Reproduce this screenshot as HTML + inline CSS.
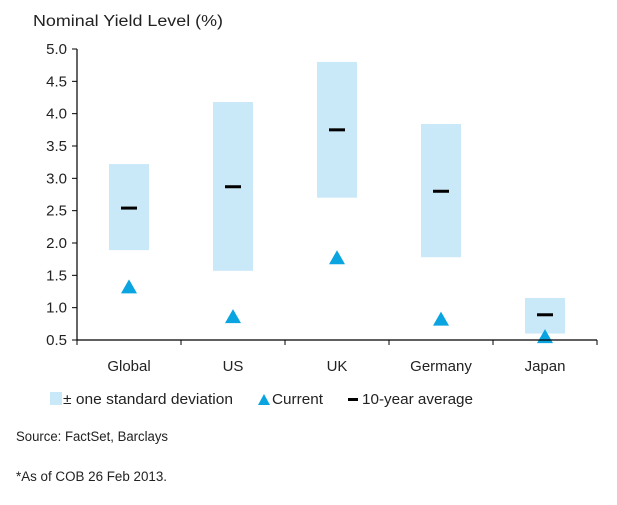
<!DOCTYPE html>
<html><head><meta charset="utf-8"><style>
body{margin:0;background:#fff;font-family:"Liberation Sans",sans-serif;}
svg text{font-family:"Liberation Sans",sans-serif;fill:#222;}
</style></head><body>
<svg width="617" height="500" id="c">
<text x="33" y="26" font-size="15.5" textLength="190" lengthAdjust="spacingAndGlyphs">Nominal Yield Level (%)</text>
<g id="plot"></g>
<g>
<rect x="50" y="392" width="12" height="13" fill="#c9e8f8"/>
<text x="63" y="404" font-size="15" textLength="170" lengthAdjust="spacingAndGlyphs">± one standard deviation</text>
<polygon points="258,405 264,394 270,405" fill="#0aa4e0"/>
<text x="272" y="404" font-size="15" textLength="51" lengthAdjust="spacingAndGlyphs">Current</text>
<rect x="348" y="398" width="10" height="3" fill="#000"/>
<text x="362" y="404" font-size="15" textLength="111" lengthAdjust="spacingAndGlyphs">10-year average</text>
</g>
<text x="16" y="441" font-size="13.5" textLength="152" lengthAdjust="spacingAndGlyphs">Source: FactSet, Barclays</text>
<text x="16" y="481" font-size="13.5" textLength="151" lengthAdjust="spacingAndGlyphs">*As of COB 26 Feb 2013.</text>
</svg>
<script>
const categories=["Global","US","UK","Germany","Japan"];
const stdHigh=[3.22,4.18,4.80,3.84,1.15];
const stdLow=[1.89,1.57,2.70,1.78,0.60];
const avg10=[2.54,2.87,3.75,2.80,0.89];
const current=[1.33,0.87,1.78,0.83,0.56];
const yTicks=["0.5","1.0","1.5","2.0","2.5","3.0","3.5","4.0","4.5","5.0"];
const NS="http://www.w3.org/2000/svg";
const g=document.getElementById('plot');
const x0=77,x1=597,yTop=49,yBot=340,vMin=0.5,vMax=5.0;
const y=v=>yBot-(v-vMin)/(vMax-vMin)*(yBot-yTop);
const bw=(x1-x0)/categories.length;
const xc=i=>x0+bw*(i+0.5);
function mk(t,a){const e=document.createElementNS(NS,t);for(const k in a)e.setAttribute(k,a[k]);g.appendChild(e);return e;}
categories.forEach((c,i)=>{
 let r=mk('rect',{x:xc(i)-20,y:y(stdHigh[i]),width:40,height:y(stdLow[i])-y(stdHigh[i]),fill:'#c9e8f8'});
 
 
});
categories.forEach((c,i)=>{
 let a=mk('rect',{x:xc(i)-8,y:y(avg10[i])-1.5,width:16,height:3,fill:'#000'});
 
 
 const cx=xc(i),cy=y(current[i]);
 let p=mk('polygon',{points:`${cx-8},${cy+7} ${cx},${cy-7} ${cx+8},${cy+7}`,fill:'#0aa4e0'});
 
 
 let t=mk('text',{x:cx,y:371,'font-size':15,'text-anchor':'middle'});
 t.textContent=c;
 
 
});
let ya=mk('line',{x1:x0,y1:yTop,x2:x0,y2:yBot,stroke:'#000','stroke-width':1.2});


let xa=mk('line',{x1:x0,y1:yBot,x2:x1,y2:yBot,stroke:'#000','stroke-width':1.2});


yTicks.forEach(s=>{
 const v=parseFloat(s),yy=y(v);
 mk('line',{x1:x0-5,y1:yy,x2:x0,y2:yy,stroke:'#000'});
 let t=mk('text',{x:x0-10,y:yy+5,'font-size':15,'text-anchor':'end'});
 t.textContent=s;
 
 
});
for(let i=0;i<=categories.length;i++){mk('line',{x1:x0+bw*i,y1:yBot,x2:x0+bw*i,y2:yBot+5,stroke:'#000'});}
</script>
</body></html>
